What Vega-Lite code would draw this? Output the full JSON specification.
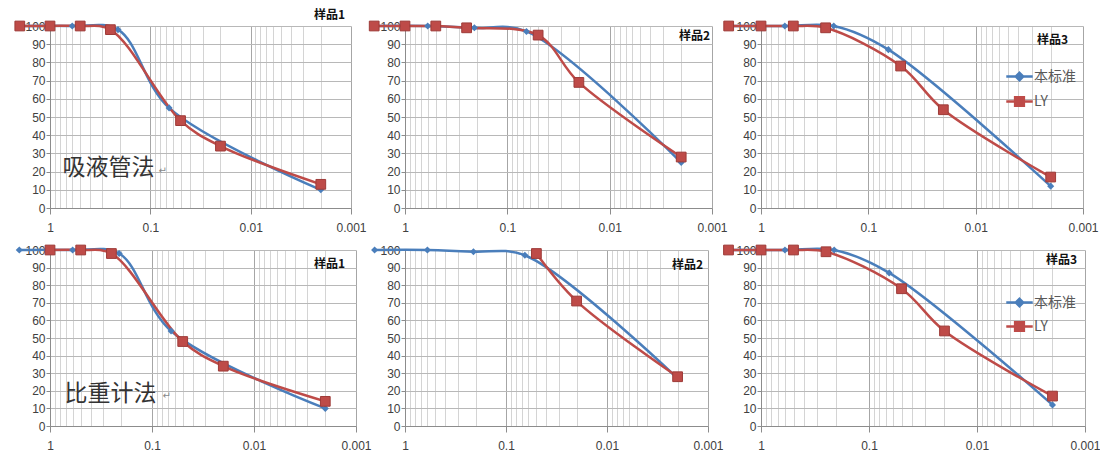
{
  "$schema": "https://vega.github.io/schema/vega-lite/v6.json",
  "autosize": "pad",
  "padding": {"left": 12, "top": 9, "right": 0, "bottom": 0},
  "background": "white",
  "bounds": "flush",
  "columns": 3,
  "spacing": {"row": 42, "column": 49},
  "config": {
    "view": {"stroke": null},
    "font": "Noto Sans CJK SC",
    "title": {"font": "Noto Sans CJK SC", "fontSize": 12, "fontWeight": "bold", "color": "#111111", "anchor": "end", "frame": "group", "baseline": "bottom"},
    "axis": {"labelFont": "Liberation Sans", "labelFontSize": 12, "labelColor": "#404040", "domainColor": "#8c8c8c", "tickColor": "#8c8c8c", "title": null}
  },
  "resolve": {"legend": {"color": "independent"}},
  "datasets": {
    "d": [
      {"p": 1, "s": "本标准", "x": 2, "y": 100},
      {"p": 1, "s": "本标准", "x": 0.6, "y": 100},
      {"p": 1, "s": "本标准", "x": 0.21, "y": 98},
      {"p": 1, "s": "本标准", "x": 0.065, "y": 55},
      {"p": 1, "s": "本标准", "x": 0.002, "y": 10},
      {"p": 1, "s": "LY", "x": 2, "y": 100},
      {"p": 1, "s": "LY", "x": 1, "y": 100},
      {"p": 1, "s": "LY", "x": 0.5, "y": 100},
      {"p": 1, "s": "LY", "x": 0.25, "y": 98},
      {"p": 1, "s": "LY", "x": 0.05, "y": 48},
      {"p": 1, "s": "LY", "x": 0.02, "y": 34},
      {"p": 1, "s": "LY", "x": 0.002, "y": 13},
      {"p": 2, "s": "本标准", "x": 2, "y": 100},
      {"p": 2, "s": "本标准", "x": 0.6, "y": 100},
      {"p": 2, "s": "本标准", "x": 0.21, "y": 99},
      {"p": 2, "s": "本标准", "x": 0.065, "y": 97},
      {"p": 2, "s": "本标准", "x": 0.002, "y": 25},
      {"p": 2, "s": "LY", "x": 2, "y": 100},
      {"p": 2, "s": "LY", "x": 1, "y": 100},
      {"p": 2, "s": "LY", "x": 0.5, "y": 100},
      {"p": 2, "s": "LY", "x": 0.25, "y": 99},
      {"p": 2, "s": "LY", "x": 0.05, "y": 95},
      {"p": 2, "s": "LY", "x": 0.02, "y": 69},
      {"p": 2, "s": "LY", "x": 0.002, "y": 28},
      {"p": 3, "s": "本标准", "x": 2, "y": 100},
      {"p": 3, "s": "本标准", "x": 0.6, "y": 100},
      {"p": 3, "s": "本标准", "x": 0.21, "y": 100},
      {"p": 3, "s": "本标准", "x": 0.065, "y": 87},
      {"p": 3, "s": "本标准", "x": 0.002, "y": 12},
      {"p": 3, "s": "LY", "x": 2, "y": 100},
      {"p": 3, "s": "LY", "x": 1, "y": 100},
      {"p": 3, "s": "LY", "x": 0.5, "y": 100},
      {"p": 3, "s": "LY", "x": 0.25, "y": 99},
      {"p": 3, "s": "LY", "x": 0.05, "y": 78},
      {"p": 3, "s": "LY", "x": 0.02, "y": 54},
      {"p": 3, "s": "LY", "x": 0.002, "y": 17},
      {"p": 4, "s": "本标准", "x": 2, "y": 100},
      {"p": 4, "s": "本标准", "x": 0.6, "y": 100},
      {"p": 4, "s": "本标准", "x": 0.21, "y": 98},
      {"p": 4, "s": "本标准", "x": 0.065, "y": 54},
      {"p": 4, "s": "本标准", "x": 0.002, "y": 10},
      {"p": 4, "s": "LY", "x": 1, "y": 100},
      {"p": 4, "s": "LY", "x": 0.5, "y": 100},
      {"p": 4, "s": "LY", "x": 0.25, "y": 98},
      {"p": 4, "s": "LY", "x": 0.05, "y": 48},
      {"p": 4, "s": "LY", "x": 0.02, "y": 34},
      {"p": 4, "s": "LY", "x": 0.002, "y": 14},
      {"p": 5, "s": "本标准", "x": 2, "y": 100},
      {"p": 5, "s": "本标准", "x": 0.6, "y": 100},
      {"p": 5, "s": "本标准", "x": 0.21, "y": 99},
      {"p": 5, "s": "本标准", "x": 0.065, "y": 97},
      {"p": 5, "s": "本标准", "x": 0.002, "y": 27},
      {"p": 5, "s": "LY", "x": 0.05, "y": 98},
      {"p": 5, "s": "LY", "x": 0.02, "y": 71},
      {"p": 5, "s": "LY", "x": 0.002, "y": 28},
      {"p": 6, "s": "本标准", "x": 2, "y": 100},
      {"p": 6, "s": "本标准", "x": 0.6, "y": 100},
      {"p": 6, "s": "本标准", "x": 0.21, "y": 100},
      {"p": 6, "s": "本标准", "x": 0.065, "y": 87},
      {"p": 6, "s": "本标准", "x": 0.002, "y": 12},
      {"p": 6, "s": "LY", "x": 2, "y": 100},
      {"p": 6, "s": "LY", "x": 1, "y": 100},
      {"p": 6, "s": "LY", "x": 0.5, "y": 100},
      {"p": 6, "s": "LY", "x": 0.25, "y": 99},
      {"p": 6, "s": "LY", "x": 0.05, "y": 78},
      {"p": 6, "s": "LY", "x": 0.02, "y": 54},
      {"p": 6, "s": "LY", "x": 0.002, "y": 17}
    ]
  },
  "concat": [
    {
      "width": 301, "height": 182,
      "title": {"text": "样品1", "offset": -3, "dx": -6},
      "encoding": {
        "x": {"field": "x", "type": "quantitative", "scale": {"type": "log", "domain": [0.001, 1], "reverse": true, "nice": false},
          "axis": {"values": [1,0.9,0.8,0.7,0.6,0.5,0.4,0.3,0.2,0.1,0.09,0.08,0.07,0.06,0.05,0.04,0.03,0.02,0.01,0.009,0.008,0.007,0.006,0.005,0.004,0.003,0.002,0.001], "grid": true, "gridColor": {"condition": {"test": "indexof([1,0.1,0.01,0.001], datum.value) >= 0", "value": "#a6a6a6"}, "value": "#d4d4d4"}, "tickOpacity": {"condition": {"test": "indexof([1,0.1,0.01,0.001], datum.value) >= 0", "value": 1}, "value": 0}, "tickSize": 6, "labelExpr": "datum.value == 1 ? '1' : datum.value == 0.1 ? '0.1' : datum.value == 0.01 ? '0.01' : datum.value == 0.001 ? '0.001' : ''", "labelOverlap": false, "labelFlush": false, "labelBound": false, "labelPadding": 8,
            "title": "↵", "titleX": 108, "titleY": -38, "titleAlign": "left", "titleBaseline": "middle", "titleAngle": 0, "titleFontSize": 10, "titleFontWeight": "normal", "titleColor": "#888888", "titleFont": "DejaVu Sans"}},
        "y": {"field": "y", "type": "quantitative", "scale": {"domain": [0, 100], "nice": false},
          "axis": {"values": [0,10,20,30,40,50,60,70,80,90,100], "grid": true, "gridColor": "#b8b8b8", "tickSize": 4, "labelPadding": 1,
            "title": "吸液管法", "titleX": 12, "titleY": 141, "titleAlign": "left", "titleBaseline": "middle", "titleAngle": 0, "titleFontSize": 23, "titleFontWeight": "normal", "titleColor": "#333333", "titleFont": "Noto Sans CJK SC"}}
      },
      "layer": [
        {"data": {"name": "d"}, "transform": [{"filter": "datum.p == 1 && datum.s == '本标准'"}], "mark": {"type": "line", "interpolate": "catmull-rom", "strokeWidth": 2.5}, "encoding": {"color": {"field": "s", "type": "nominal", "scale": {"domain": ["本标准", "LY"], "range": ["#4A7EBB", "#BE4B48"]}, "legend": null}, "order": {"field": "x", "sort": "descending"}}},
        {"data": {"name": "d"}, "transform": [{"filter": "datum.p == 1 && datum.s == 'LY'"}], "mark": {"type": "line", "interpolate": "catmull-rom", "strokeWidth": 2.5}, "encoding": {"color": {"field": "s", "type": "nominal", "scale": {"domain": ["本标准", "LY"], "range": ["#4A7EBB", "#BE4B48"]}, "legend": null}, "order": {"field": "x", "sort": "descending"}}},
        {"data": {"name": "d"}, "transform": [{"filter": "datum.p == 1 && datum.s == '本标准'"}], "mark": {"type": "point", "shape": "diamond", "filled": true, "size": 50, "color": "#4A7EBB", "opacity": 1}},
        {"data": {"name": "d"}, "transform": [{"filter": "datum.p == 1 && datum.s == 'LY'"}], "mark": {"type": "point", "shape": "square", "filled": true, "size": 95, "color": "#BE4B48", "stroke": "#9E3B38", "strokeWidth": 1, "opacity": 1}}
      ]
    },
    {
      "width": 307, "height": 182,
      "title": {"text": "样品2", "offset": -24, "dx": -2},
      "encoding": {
        "x": {"field": "x", "type": "quantitative", "scale": {"type": "log", "domain": [0.001, 1], "reverse": true, "nice": false},
          "axis": {"values": [1,0.9,0.8,0.7,0.6,0.5,0.4,0.3,0.2,0.1,0.09,0.08,0.07,0.06,0.05,0.04,0.03,0.02,0.01,0.009,0.008,0.007,0.006,0.005,0.004,0.003,0.002,0.001], "grid": true, "gridColor": {"condition": {"test": "indexof([1,0.1,0.01,0.001], datum.value) >= 0", "value": "#a6a6a6"}, "value": "#d4d4d4"}, "tickOpacity": {"condition": {"test": "indexof([1,0.1,0.01,0.001], datum.value) >= 0", "value": 1}, "value": 0}, "tickSize": 6, "labelExpr": "datum.value == 1 ? '1' : datum.value == 0.1 ? '0.1' : datum.value == 0.01 ? '0.01' : datum.value == 0.001 ? '0.001' : ''", "labelOverlap": false, "labelFlush": false, "labelBound": false, "labelPadding": 8}},
        "y": {"field": "y", "type": "quantitative", "scale": {"domain": [0, 100], "nice": false},
          "axis": {"values": [0,10,20,30,40,50,60,70,80,90,100], "grid": true, "gridColor": "#b8b8b8", "tickSize": 4, "labelPadding": 1}}
      },
      "layer": [
        {"data": {"name": "d"}, "transform": [{"filter": "datum.p == 2 && datum.s == '本标准'"}], "mark": {"type": "line", "interpolate": "catmull-rom", "strokeWidth": 2.5}, "encoding": {"color": {"field": "s", "type": "nominal", "scale": {"domain": ["本标准", "LY"], "range": ["#4A7EBB", "#BE4B48"]}, "legend": null}, "order": {"field": "x", "sort": "descending"}}},
        {"data": {"name": "d"}, "transform": [{"filter": "datum.p == 2 && datum.s == 'LY'"}], "mark": {"type": "line", "interpolate": "catmull-rom", "strokeWidth": 2.5}, "encoding": {"color": {"field": "s", "type": "nominal", "scale": {"domain": ["本标准", "LY"], "range": ["#4A7EBB", "#BE4B48"]}, "legend": null}, "order": {"field": "x", "sort": "descending"}}},
        {"data": {"name": "d"}, "transform": [{"filter": "datum.p == 2 && datum.s == '本标准'"}], "mark": {"type": "point", "shape": "diamond", "filled": true, "size": 50, "color": "#4A7EBB", "opacity": 1}},
        {"data": {"name": "d"}, "transform": [{"filter": "datum.p == 2 && datum.s == 'LY'"}], "mark": {"type": "point", "shape": "square", "filled": true, "size": 95, "color": "#BE4B48", "stroke": "#9E3B38", "strokeWidth": 1, "opacity": 1}}
      ]
    },
    {
      "width": 322, "height": 182,
      "title": {"text": "样品3", "offset": -28, "dx": -15},
      "encoding": {
        "x": {"field": "x", "type": "quantitative", "scale": {"type": "log", "domain": [0.001, 1], "reverse": true, "nice": false},
          "axis": {"values": [1,0.9,0.8,0.7,0.6,0.5,0.4,0.3,0.2,0.1,0.09,0.08,0.07,0.06,0.05,0.04,0.03,0.02,0.01,0.009,0.008,0.007,0.006,0.005,0.004,0.003,0.002,0.001], "grid": true, "gridColor": {"condition": {"test": "indexof([1,0.1,0.01,0.001], datum.value) >= 0", "value": "#a6a6a6"}, "value": "#d4d4d4"}, "tickOpacity": {"condition": {"test": "indexof([1,0.1,0.01,0.001], datum.value) >= 0", "value": 1}, "value": 0}, "tickSize": 6, "labelExpr": "datum.value == 1 ? '1' : datum.value == 0.1 ? '0.1' : datum.value == 0.01 ? '0.01' : datum.value == 0.001 ? '0.001' : ''", "labelOverlap": false, "labelFlush": false, "labelBound": false, "labelPadding": 8}},
        "y": {"field": "y", "type": "quantitative", "scale": {"domain": [0, 100], "nice": false},
          "axis": {"values": [0,10,20,30,40,50,60,70,80,90,100], "grid": true, "gridColor": "#b8b8b8", "tickSize": 4, "labelPadding": 1}}
      },
      "layer": [
        {"data": {"name": "d"}, "transform": [{"filter": "datum.p == 3 && datum.s == '本标准'"}], "mark": {"type": "line", "interpolate": "catmull-rom", "strokeWidth": 2.5}, "encoding": {"color": {"field": "s", "type": "nominal", "scale": {"domain": ["本标准", "LY"], "range": ["#4A7EBB", "#BE4B48"]},
          "legend": {"orient": "none", "legendX": 244, "legendY": 36, "title": null, "padding": 0, "symbolSize": 700, "symbolStrokeWidth": 2.5, "labelFontSize": 14, "labelFont": "Noto Sans CJK SC", "labelColor": "#595959", "labelOffset": 0, "rowPadding": 1,
            "encode": {"symbols": {"update": {"shape": {"signal": "datum.value === 'LY' ? 'M-1,0H1M-0.33,-0.33H0.33V0.33H-0.33Z' : 'M-1,0H1M0,-0.28L0.28,0L0,0.28L-0.28,0Z'"}, "fill": {"signal": "datum.value === 'LY' ? '#BE4B48' : '#4A7EBB'"}, "stroke": {"signal": "datum.value === 'LY' ? '#BE4B48' : '#4A7EBB'"}, "strokeWidth": {"value": 2.5}, "opacity": {"value": 1}}}}}}, "order": {"field": "x", "sort": "descending"}}},
        {"data": {"name": "d"}, "transform": [{"filter": "datum.p == 3 && datum.s == 'LY'"}], "mark": {"type": "line", "interpolate": "catmull-rom", "strokeWidth": 2.5}, "encoding": {"color": {"field": "s", "type": "nominal", "scale": {"domain": ["本标准", "LY"], "range": ["#4A7EBB", "#BE4B48"]}}, "order": {"field": "x", "sort": "descending"}}},
        {"data": {"name": "d"}, "transform": [{"filter": "datum.p == 3 && datum.s == '本标准'"}], "mark": {"type": "point", "shape": "diamond", "filled": true, "size": 50, "color": "#4A7EBB", "opacity": 1}},
        {"data": {"name": "d"}, "transform": [{"filter": "datum.p == 3 && datum.s == 'LY'"}], "mark": {"type": "point", "shape": "square", "filled": true, "size": 95, "color": "#BE4B48", "stroke": "#9E3B38", "strokeWidth": 1, "opacity": 1}}
      ]
    },
    {
      "width": 306, "height": 176,
      "title": {"text": "样品1", "offset": -28, "dx": -11},
      "encoding": {
        "x": {"field": "x", "type": "quantitative", "scale": {"type": "log", "domain": [0.001, 1], "reverse": true, "nice": false},
          "axis": {"values": [1,0.9,0.8,0.7,0.6,0.5,0.4,0.3,0.2,0.1,0.09,0.08,0.07,0.06,0.05,0.04,0.03,0.02,0.01,0.009,0.008,0.007,0.006,0.005,0.004,0.003,0.002,0.001], "grid": true, "gridColor": {"condition": {"test": "indexof([1,0.1,0.01,0.001], datum.value) >= 0", "value": "#a6a6a6"}, "value": "#d4d4d4"}, "tickOpacity": {"condition": {"test": "indexof([1,0.1,0.01,0.001], datum.value) >= 0", "value": 1}, "value": 0}, "tickSize": 6, "labelExpr": "datum.value == 1 ? '1' : datum.value == 0.1 ? '0.1' : datum.value == 0.01 ? '0.01' : datum.value == 0.001 ? '0.001' : ''", "labelOverlap": false, "labelFlush": false, "labelBound": false, "labelPadding": 8,
            "title": "↵", "titleX": 112, "titleY": -31, "titleAlign": "left", "titleBaseline": "middle", "titleAngle": 0, "titleFontSize": 10, "titleFontWeight": "normal", "titleColor": "#888888", "titleFont": "DejaVu Sans"}},
        "y": {"field": "y", "type": "quantitative", "scale": {"domain": [0, 100], "nice": false},
          "axis": {"values": [0,10,20,30,40,50,60,70,80,90,100], "grid": true, "gridColor": "#b8b8b8", "tickSize": 4, "labelPadding": 1,
            "title": "比重计法", "titleX": 14, "titleY": 143, "titleAlign": "left", "titleBaseline": "middle", "titleAngle": 0, "titleFontSize": 23, "titleFontWeight": "normal", "titleColor": "#333333", "titleFont": "Noto Sans CJK SC"}}
      },
      "layer": [
        {"data": {"name": "d"}, "transform": [{"filter": "datum.p == 4 && datum.s == '本标准'"}], "mark": {"type": "line", "interpolate": "catmull-rom", "strokeWidth": 2.5}, "encoding": {"color": {"field": "s", "type": "nominal", "scale": {"domain": ["本标准", "LY"], "range": ["#4A7EBB", "#BE4B48"]}, "legend": null}, "order": {"field": "x", "sort": "descending"}}},
        {"data": {"name": "d"}, "transform": [{"filter": "datum.p == 4 && datum.s == 'LY'"}], "mark": {"type": "line", "interpolate": "catmull-rom", "strokeWidth": 2.5}, "encoding": {"color": {"field": "s", "type": "nominal", "scale": {"domain": ["本标准", "LY"], "range": ["#4A7EBB", "#BE4B48"]}, "legend": null}, "order": {"field": "x", "sort": "descending"}}},
        {"data": {"name": "d"}, "transform": [{"filter": "datum.p == 4 && datum.s == '本标准'"}], "mark": {"type": "point", "shape": "diamond", "filled": true, "size": 50, "color": "#4A7EBB", "opacity": 1}},
        {"data": {"name": "d"}, "transform": [{"filter": "datum.p == 4 && datum.s == 'LY'"}], "mark": {"type": "point", "shape": "square", "filled": true, "size": 95, "color": "#BE4B48", "stroke": "#9E3B38", "strokeWidth": 1, "opacity": 1}}
      ]
    },
    {
      "width": 303, "height": 176,
      "title": {"text": "样品2", "offset": -28, "dx": -5},
      "encoding": {
        "x": {"field": "x", "type": "quantitative", "scale": {"type": "log", "domain": [0.001, 1], "reverse": true, "nice": false},
          "axis": {"values": [1,0.9,0.8,0.7,0.6,0.5,0.4,0.3,0.2,0.1,0.09,0.08,0.07,0.06,0.05,0.04,0.03,0.02,0.01,0.009,0.008,0.007,0.006,0.005,0.004,0.003,0.002,0.001], "grid": true, "gridColor": {"condition": {"test": "indexof([1,0.1,0.01,0.001], datum.value) >= 0", "value": "#a6a6a6"}, "value": "#d4d4d4"}, "tickOpacity": {"condition": {"test": "indexof([1,0.1,0.01,0.001], datum.value) >= 0", "value": 1}, "value": 0}, "tickSize": 6, "labelExpr": "datum.value == 1 ? '1' : datum.value == 0.1 ? '0.1' : datum.value == 0.01 ? '0.01' : datum.value == 0.001 ? '0.001' : ''", "labelOverlap": false, "labelFlush": false, "labelBound": false, "labelPadding": 8}},
        "y": {"field": "y", "type": "quantitative", "scale": {"domain": [0, 100], "nice": false},
          "axis": {"values": [0,10,20,30,40,50,60,70,80,90,100], "grid": true, "gridColor": "#b8b8b8", "tickSize": 4, "labelPadding": 1}}
      },
      "layer": [
        {"data": {"name": "d"}, "transform": [{"filter": "datum.p == 5 && datum.s == '本标准'"}], "mark": {"type": "line", "interpolate": "catmull-rom", "strokeWidth": 2.5}, "encoding": {"color": {"field": "s", "type": "nominal", "scale": {"domain": ["本标准", "LY"], "range": ["#4A7EBB", "#BE4B48"]}, "legend": null}, "order": {"field": "x", "sort": "descending"}}},
        {"data": {"name": "d"}, "transform": [{"filter": "datum.p == 5 && datum.s == 'LY'"}], "mark": {"type": "line", "interpolate": "catmull-rom", "strokeWidth": 2.5}, "encoding": {"color": {"field": "s", "type": "nominal", "scale": {"domain": ["本标准", "LY"], "range": ["#4A7EBB", "#BE4B48"]}, "legend": null}, "order": {"field": "x", "sort": "descending"}}},
        {"data": {"name": "d"}, "transform": [{"filter": "datum.p == 5 && datum.s == '本标准'"}], "mark": {"type": "point", "shape": "diamond", "filled": true, "size": 50, "color": "#4A7EBB", "opacity": 1}},
        {"data": {"name": "d"}, "transform": [{"filter": "datum.p == 5 && datum.s == 'LY'"}], "mark": {"type": "point", "shape": "square", "filled": true, "size": 95, "color": "#BE4B48", "stroke": "#9E3B38", "strokeWidth": 1, "opacity": 1}}
      ]
    },
    {
      "width": 324, "height": 176,
      "title": {"text": "样品3", "offset": -24, "dx": -8},
      "encoding": {
        "x": {"field": "x", "type": "quantitative", "scale": {"type": "log", "domain": [0.001, 1], "reverse": true, "nice": false},
          "axis": {"values": [1,0.9,0.8,0.7,0.6,0.5,0.4,0.3,0.2,0.1,0.09,0.08,0.07,0.06,0.05,0.04,0.03,0.02,0.01,0.009,0.008,0.007,0.006,0.005,0.004,0.003,0.002,0.001], "grid": true, "gridColor": {"condition": {"test": "indexof([1,0.1,0.01,0.001], datum.value) >= 0", "value": "#a6a6a6"}, "value": "#d4d4d4"}, "tickOpacity": {"condition": {"test": "indexof([1,0.1,0.01,0.001], datum.value) >= 0", "value": 1}, "value": 0}, "tickSize": 6, "labelExpr": "datum.value == 1 ? '1' : datum.value == 0.1 ? '0.1' : datum.value == 0.01 ? '0.01' : datum.value == 0.001 ? '0.001' : ''", "labelOverlap": false, "labelFlush": false, "labelBound": false, "labelPadding": 8}},
        "y": {"field": "y", "type": "quantitative", "scale": {"domain": [0, 100], "nice": false},
          "axis": {"values": [0,10,20,30,40,50,60,70,80,90,100], "grid": true, "gridColor": "#b8b8b8", "tickSize": 4, "labelPadding": 1}}
      },
      "layer": [
        {"data": {"name": "d"}, "transform": [{"filter": "datum.p == 6 && datum.s == '本标准'"}], "mark": {"type": "line", "interpolate": "catmull-rom", "strokeWidth": 2.5}, "encoding": {"color": {"field": "s", "type": "nominal", "scale": {"domain": ["本标准", "LY"], "range": ["#4A7EBB", "#BE4B48"]},
          "legend": {"orient": "none", "legendX": 244, "legendY": 38, "title": null, "padding": 0, "symbolSize": 700, "symbolStrokeWidth": 2.5, "labelFontSize": 14, "labelFont": "Noto Sans CJK SC", "labelColor": "#595959", "labelOffset": 0, "rowPadding": 0,
            "encode": {"symbols": {"update": {"shape": {"signal": "datum.value === 'LY' ? 'M-1,0H1M-0.33,-0.33H0.33V0.33H-0.33Z' : 'M-1,0H1M0,-0.28L0.28,0L0,0.28L-0.28,0Z'"}, "fill": {"signal": "datum.value === 'LY' ? '#BE4B48' : '#4A7EBB'"}, "stroke": {"signal": "datum.value === 'LY' ? '#BE4B48' : '#4A7EBB'"}, "strokeWidth": {"value": 2.5}, "opacity": {"value": 1}}}}}}, "order": {"field": "x", "sort": "descending"}}},
        {"data": {"name": "d"}, "transform": [{"filter": "datum.p == 6 && datum.s == 'LY'"}], "mark": {"type": "line", "interpolate": "catmull-rom", "strokeWidth": 2.5}, "encoding": {"color": {"field": "s", "type": "nominal", "scale": {"domain": ["本标准", "LY"], "range": ["#4A7EBB", "#BE4B48"]}}, "order": {"field": "x", "sort": "descending"}}},
        {"data": {"name": "d"}, "transform": [{"filter": "datum.p == 6 && datum.s == '本标准'"}], "mark": {"type": "point", "shape": "diamond", "filled": true, "size": 50, "color": "#4A7EBB", "opacity": 1}},
        {"data": {"name": "d"}, "transform": [{"filter": "datum.p == 6 && datum.s == 'LY'"}], "mark": {"type": "point", "shape": "square", "filled": true, "size": 95, "color": "#BE4B48", "stroke": "#9E3B38", "strokeWidth": 1, "opacity": 1}}
      ]
    }
  ]
}
